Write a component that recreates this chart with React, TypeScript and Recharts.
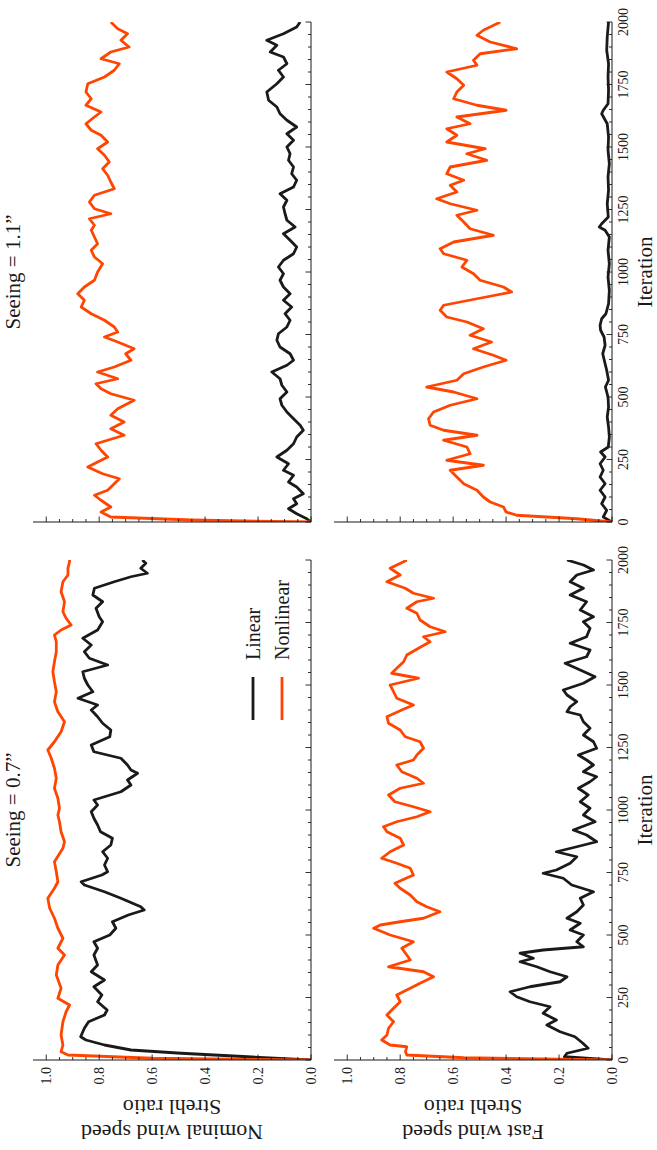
import React from 'react'
import { LineChart, Line, XAxis, YAxis, Legend } from 'recharts'

const FONT = '"Liberation Serif", "DejaVu Serif", serif'
const ORANGE = '#ff4500'
const INK = '#1a1a1a'

// ticks: majors every 250 / 0.2, minors every 50 / 0.05
const iterTicks = [0, 50, 100, 150, 200, 250, 300, 350, 400, 450, 500, 550, 600, 650, 700, 750, 800, 850, 900, 950, 1000,
  1050, 1100, 1150, 1200, 1250, 1300, 1350, 1400, 1450, 1500, 1550, 1600, 1650, 1700, 1750, 1800, 1850, 1900, 1950, 2000]
const strehlTicks = [0, 0.05, 0.1, 0.15, 0.2, 0.25, 0.3, 0.35, 0.4, 0.45, 0.5, 0.55, 0.6, 0.65, 0.7, 0.75, 0.8, 0.85, 0.9, 0.95, 1]

const seeings = ['Seeing = 0.7\u201d', 'Seeing = 1.1\u201d']
const rowLabels = ['Nominal wind speed', 'Fast wind speed']

// [iteration, strehl]
const nom07Lin: [number, number][] = [[0,0],[13,0.24],[27,0.49],[40,0.68],[60,0.78],[80,0.85],[93,0.87],[127,0.856],[153,0.84],[180,0.78],[200,0.77],[233,0.806],[260,0.79],[293,0.82],[320,0.78],[353,0.83],[380,0.806],[420,0.82],[447,0.806],[473,0.82],[500,0.76],[527,0.737],[553,0.75],[580,0.69],[600,0.63],[613,0.643],[647,0.718],[673,0.78],[700,0.856],[713,0.868],[740,0.79],[753,0.768],[780,0.78],[807,0.768],[833,0.787],[860,0.756],[887,0.75],[913,0.795],[940,0.806],[967,0.82],[993,0.83],[1020,0.806],[1040,0.82],[1073,0.718],[1100,0.68],[1120,0.693],[1147,0.655],[1160,0.68],[1180,0.693],[1207,0.718],[1233,0.82],[1260,0.83],[1293,0.76],[1320,0.756],[1347,0.787],[1373,0.806],[1400,0.83],[1420,0.806],[1447,0.88],[1473,0.824],[1500,0.843],[1527,0.856],[1553,0.862],[1580,0.768],[1607,0.837],[1633,0.856],[1660,0.83],[1687,0.862],[1720,0.806],[1753,0.787],[1773,0.8],[1807,0.812],[1833,0.787],[1860,0.824],[1887,0.818],[1913,0.743],[1933,0.68],[1947,0.618],[1967,0.643],[1987,0.624],[2000,0.637]]
const nom07Non: [number, number][] = [[0,0],[7,0.6],[20,0.918],[33,0.944],[60,0.937],[100,0.944],[153,0.937],[193,0.925],[220,0.912],[247,0.956],[287,0.944],[340,0.962],[380,0.956],[420,0.931],[447,0.956],[487,0.937],[527,0.956],[567,0.969],[607,0.987],[647,0.994],[687,0.969],[713,0.956],[753,0.962],[793,0.969],[847,0.937],[873,0.931],[913,0.944],[953,0.95],[980,0.956],[1007,0.95],[1047,0.956],[1087,0.969],[1127,0.962],[1167,0.969],[1207,0.981],[1240,0.994],[1273,0.969],[1313,0.944],[1353,0.931],[1393,0.956],[1433,0.969],[1473,0.962],[1513,0.969],[1553,0.975],[1593,0.969],[1633,0.962],[1673,0.962],[1700,0.969],[1720,0.944],[1740,0.906],[1767,0.925],[1793,0.937],[1833,0.931],[1873,0.944],[1913,0.937],[1940,0.918],[1967,0.918],[1993,0.912],[2000,0.912]]

const fast07Lin: [number, number][] = [[0,0],[13,0.18],[27,0.17],[47,0.09],[67,0.11],[93,0.14],[113,0.196],[140,0.246],[160,0.21],[187,0.26],[213,0.234],[233,0.31],[253,0.36],[273,0.385],[293,0.31],[313,0.196],[333,0.17],[353,0.234],[373,0.284],[393,0.347],[407,0.297],[427,0.347],[440,0.26],[453,0.108],[473,0.133],[500,0.108],[520,0.158],[547,0.12],[567,0.17],[593,0.133],[620,0.108],[647,0.12],[673,0.07],[700,0.152],[727,0.184],[747,0.26],[760,0.21],[787,0.158],[813,0.133],[833,0.21],[853,0.133],[873,0.058],[900,0.096],[920,0.146],[953,0.064],[980,0.108],[1007,0.083],[1033,0.12],[1060,0.09],[1087,0.127],[1113,0.083],[1133,0.058],[1153,0.108],[1180,0.07],[1200,0.096],[1220,0.127],[1247,0.058],[1273,0.07],[1300,0.108],[1327,0.083],[1353,0.108],[1380,0.12],[1393,0.17],[1413,0.158],[1433,0.133],[1460,0.17],[1480,0.184],[1507,0.108],[1533,0.064],[1560,0.12],[1587,0.177],[1613,0.096],[1640,0.083],[1667,0.158],[1693,0.096],[1727,0.083],[1753,0.108],[1773,0.07],[1800,0.12],[1833,0.096],[1860,0.158],[1887,0.108],[1913,0.158],[1940,0.133],[1960,0.07],[1980,0.108],[2000,0.17]]
const fast07Non: [number, number][] = [[0,0],[9,0.56],[20,0.775],[33,0.78],[53,0.775],[60,0.838],[80,0.87],[100,0.85],[127,0.844],[153,0.825],[180,0.85],[207,0.825],[233,0.8],[260,0.813],[287,0.762],[307,0.725],[333,0.674],[353,0.712],[373,0.844],[400,0.762],[420,0.775],[447,0.794],[473,0.75],[500,0.838],[527,0.9],[540,0.875],[553,0.8],[567,0.712],[593,0.65],[613,0.7],[633,0.737],[660,0.762],[687,0.8],[707,0.82],[740,0.75],[767,0.762],[787,0.813],[807,0.87],[833,0.838],[860,0.787],[887,0.8],[913,0.85],[933,0.863],[953,0.813],[973,0.737],[993,0.687],[1013,0.75],[1033,0.82],[1060,0.844],[1087,0.8],[1107,0.712],[1127,0.737],[1153,0.794],[1180,0.813],[1200,0.75],[1220,0.737],[1247,0.712],[1273,0.725],[1293,0.781],[1320,0.8],[1347,0.844],[1373,0.85],[1400,0.794],[1420,0.75],[1447,0.813],[1473,0.825],[1500,0.838],[1527,0.731],[1547,0.832],[1567,0.813],[1593,0.787],[1620,0.775],[1647,0.731],[1673,0.687],[1693,0.712],[1713,0.63],[1733,0.687],[1760,0.725],[1787,0.737],[1807,0.775],[1833,0.737],[1847,0.674],[1867,0.75],[1887,0.781],[1913,0.85],[1940,0.8],[1967,0.838],[1993,0.787],[2000,0.775]]

const nom11Lin: [number, number][] = [[0,0],[13,0.016],[33,0.054],[53,0.085],[73,0.054],[93,0.066],[113,0.029],[140,0.054],[160,0.085],[187,0.066],[207,0.104],[233,0.085],[260,0.129],[287,0.091],[313,0.066],[340,0.054],[367,0.029],[387,0.041],[413,0.066],[440,0.091],[467,0.11],[493,0.117],[520,0.091],[547,0.11],[573,0.117],[600,0.148],[627,0.091],[647,0.066],[673,0.079],[700,0.117],[727,0.129],[753,0.123],[780,0.091],[807,0.079],[833,0.098],[860,0.073],[887,0.104],[913,0.079],[940,0.104],[967,0.117],[993,0.104],[1020,0.123],[1047,0.104],[1073,0.066],[1100,0.054],[1127,0.079],[1153,0.104],[1180,0.06],[1207,0.091],[1233,0.098],[1260,0.104],[1287,0.091],[1313,0.117],[1340,0.066],[1367,0.054],[1393,0.073],[1420,0.066],[1447,0.085],[1473,0.079],[1500,0.091],[1527,0.066],[1553,0.091],[1580,0.054],[1607,0.091],[1633,0.117],[1660,0.129],[1687,0.16],[1720,0.167],[1753,0.129],[1780,0.104],[1807,0.123],[1833,0.091],[1860,0.104],[1880,0.154],[1907,0.129],[1927,0.167],[1953,0.104],[1980,0.054],[2000,0.041]]
const nom11Non: [number, number][] = [[0,0],[8,0.45],[20,0.756],[40,0.793],[60,0.756],[87,0.793],[107,0.818],[127,0.768],[153,0.743],[173,0.724],[193,0.787],[220,0.843],[240,0.806],[260,0.768],[287,0.793],[313,0.812],[347,0.706],[373,0.756],[400,0.706],[427,0.756],[453,0.73],[487,0.668],[513,0.756],[533,0.793],[553,0.812],[573,0.73],[600,0.806],[620,0.743],[647,0.68],[673,0.7],[693,0.668],[720,0.73],[740,0.78],[760,0.73],[780,0.743],[807,0.78],[833,0.83],[860,0.868],[887,0.856],[913,0.881],[940,0.856],[967,0.818],[1000,0.806],[1033,0.787],[1060,0.818],[1087,0.83],[1113,0.806],[1140,0.818],[1167,0.83],[1187,0.818],[1213,0.837],[1233,0.756],[1253,0.818],[1280,0.837],[1307,0.818],[1333,0.743],[1360,0.756],[1387,0.768],[1413,0.787],[1440,0.762],[1467,0.78],[1493,0.806],[1520,0.768],[1547,0.793],[1567,0.83],[1593,0.85],[1620,0.818],[1640,0.793],[1667,0.85],[1693,0.83],[1720,0.85],[1753,0.843],[1780,0.78],[1807,0.743],[1833,0.724],[1853,0.793],[1880,0.756],[1900,0.687],[1927,0.718],[1953,0.693],[1973,0.73],[2000,0.756]]

const fast11Lin: [number, number][] = [[0,0],[20,0.033],[47,0.02],[73,0.039],[100,0.026],[127,0.045],[153,0.026],[180,0.045],[207,0.033],[233,0.045],[260,0.026],[280,0.043],[300,0.014],[340,0.01],[380,0.013],[420,0.018],[460,0.013],[500,0.015],[540,0.025],[567,0.013],[607,0.02],[633,0.026],[673,0.035],[707,0.026],[740,0.03],[767,0.043],[787,0.045],[813,0.039],[833,0.023],[873,0.013],[927,0.01],[980,0.015],[1033,0.01],[1087,0.015],[1140,0.01],[1167,0.026],[1180,0.048],[1193,0.039],[1220,0.014],[1273,0.018],[1327,0.013],[1380,0.015],[1433,0.01],[1487,0.015],[1540,0.013],[1593,0.018],[1633,0.039],[1647,0.033],[1673,0.015],[1727,0.013],[1780,0.015],[1833,0.013],[1887,0.02],[1940,0.018],[2000,0.013]]
const fast11Non: [number, number][] = [[0,0],[13,0.133],[27,0.36],[40,0.4],[60,0.41],[80,0.46],[100,0.486],[127,0.51],[153,0.56],[180,0.586],[207,0.611],[227,0.486],[247,0.624],[273,0.536],[300,0.548],[327,0.636],[347,0.51],[367,0.636],[387,0.687],[413,0.693],[440,0.674],[467,0.611],[493,0.51],[520,0.598],[540,0.7],[567,0.586],[593,0.56],[620,0.486],[647,0.4],[667,0.448],[693,0.523],[720,0.455],[747,0.536],[773,0.486],[800,0.548],[820,0.624],[847,0.649],[867,0.636],[893,0.51],[920,0.379],[940,0.41],[967,0.498],[993,0.523],[1020,0.567],[1047,0.548],[1073,0.636],[1093,0.649],[1120,0.598],[1147,0.448],[1173,0.536],[1200,0.56],[1227,0.586],[1247,0.51],[1273,0.611],[1293,0.662],[1320,0.586],[1347,0.611],[1367,0.56],[1393,0.624],[1420,0.611],[1447,0.473],[1473,0.548],[1493,0.479],[1520,0.624],[1547,0.586],[1573,0.624],[1593,0.536],[1620,0.586],[1647,0.4],[1667,0.51],[1693,0.598],[1720,0.586],[1747,0.56],[1773,0.586],[1800,0.624],[1827,0.51],[1847,0.523],[1873,0.498],[1893,0.36],[1920,0.46],[1947,0.51],[1967,0.486],[1993,0.435],[2000,0.422]]

const toRows = (pts: [number, number][]) => pts.map(([it, v]) => ({ it, v }))

// plot geometry in the unrotated (landscape) figure
const PW = 500
const PH = 278
const AXL = 50
const AXB = 30
const PAD = 5
const PADR = 22
const colX = [90, 628]
const rowY = [33, 334]

function xTick(p: any, axisY: number, dir: number, label: boolean) {
  const v = p.payload.value
  const major = v % 250 === 0
  const len = major ? 5.5 : 3
  return (
    <g>
      <line x1={p.x} x2={p.x} y1={axisY} y2={axisY - dir * len} stroke={INK} strokeWidth={0.9} />
      {label && major && (
        <text x={p.x} y={axisY + 11.5} textAnchor="middle" dominantBaseline="central" fontFamily={FONT} fontSize={14} fill={INK}>
          {v}
        </text>
      )}
    </g>
  )
}

function yTick(p: any, axisX: number, dir: number, label: boolean) {
  const v = p.payload.value
  const major = Math.round(v * 100) % 20 === 0
  const len = major ? 5.5 : 3
  return (
    <g>
      <line x1={axisX} x2={axisX + dir * len} y1={p.y} y2={p.y} stroke={INK} strokeWidth={0.9} />
      {label && major && (
        <text x={axisX - 7} y={p.y} textAnchor="end" dominantBaseline="central" fontFamily={FONT} fontSize={14} fill={INK}>
          {v.toFixed(1)}
        </text>
      )}
    </g>
  )
}

function LegendBox({ payload }: any) {
  return (
    <div style={{ fontFamily: FONT, fontSize: 20, color: INK }}>
      {(payload || []).map((e: any) => (
        <div key={e.value} style={{ display: 'flex', alignItems: 'center', height: 29 }}>
          <svg width={43} height={4} style={{ display: 'block' }}>
            <line x1={0} x2={43} y1={2} y2={2} stroke={e.color} strokeWidth={2.8} />
          </svg>
          <span style={{ marginLeft: 17, lineHeight: '20px' }}>{e.value}</span>
        </div>
      ))}
    </div>
  )
}

function Panel({ col, row, lin, non, legend }: { col: number; row: number; lin: [number, number][]; non: [number, number][]; legend?: boolean }) {
  const bottom = PAD + PH
  const right = AXL + PW
  const showX = row === 1
  const showY = col === 0
  return (
    <div style={{ position: 'absolute', left: colX[col] - AXL, top: rowY[row] - PAD }}>
      <LineChart width={AXL + PW + PADR} height={PAD + PH + AXB} margin={{ top: PAD, right: PADR, bottom: 0, left: 0 }}>
        <XAxis xAxisId="b" type="number" dataKey="it" domain={[0, 2000]} allowDataOverflow ticks={iterTicks} interval={0}
          height={AXB} tickLine={false} axisLine={{ stroke: INK }} tick={(p: any) => xTick(p, bottom, 1, showX)} />
        <XAxis xAxisId="t" orientation="top" type="number" dataKey="it" domain={[0, 2000]} allowDataOverflow ticks={iterTicks} interval={0}
          height={0} tickLine={false} axisLine={{ stroke: INK }} tick={(p: any) => xTick(p, PAD, -1, false)} />
        <YAxis yAxisId="l" type="number" domain={[0, 1.05]} allowDataOverflow ticks={strehlTicks} interval={0}
          width={AXL} tickLine={false} axisLine={{ stroke: INK }} tick={(p: any) => yTick(p, AXL, 1, showY)} />
        <YAxis yAxisId="r" orientation="right" type="number" domain={[0, 1.05]} allowDataOverflow ticks={strehlTicks} interval={0}
          width={0} tickLine={false} axisLine={{ stroke: INK }} tick={(p: any) => yTick(p, right, -1, false)} />
        <Line xAxisId="b" yAxisId="l" data={toRows(lin)} dataKey="v" name="Linear" type="linear" stroke={INK}
          strokeWidth={2.8} dot={false} strokeLinejoin="round" isAnimationActive={false} />
        <Line xAxisId="b" yAxisId="l" data={toRows(non)} dataKey="v" name="Nonlinear" type="linear" stroke={ORANGE}
          strokeWidth={2.8} dot={false} strokeLinejoin="round" isAnimationActive={false} />
        {legend && (
          <Legend layout="vertical" align="center" verticalAlign="middle" content={<LegendBox />}
            wrapperStyle={{ left: 390, top: 210, width: 160, height: 58 }} />
        )}
      </LineChart>
    </div>
  )
}

const txt: React.CSSProperties = { position: 'absolute', fontFamily: FONT, color: INK, textAlign: 'center', whiteSpace: 'nowrap' }

export default function App() {
  return (
    <div style={{ position: 'absolute', left: 0, top: 0, width: 657, height: 1150, overflow: 'hidden', background: '#fff' }}>
      <div style={{ position: 'absolute', left: 0, top: 0, width: 1150, height: 657, background: '#fff',
        transformOrigin: '0 0', transform: 'translateY(1150px) rotate(-90deg)' }}>
        <Panel col={0} row={0} lin={nom07Lin} non={nom07Non} legend />
        <Panel col={0} row={1} lin={fast07Lin} non={fast07Non} />
        <Panel col={1} row={0} lin={nom11Lin} non={nom11Non} />
        <Panel col={1} row={1} lin={fast11Lin} non={fast11Non} />

        {seeings.map((s, i) => (
          <div key={s} style={{ ...txt, left: colX[i] + PW / 2 - 150, width: 300, top: 16 - 12.6, fontSize: 21, lineHeight: '21px' }}>{s}</div>
        ))}
        {colX.map((x) => (
          <div key={x} style={{ ...txt, left: x + PW / 2 - 150, width: 300, top: 645 - 10.5, fontSize: 21, lineHeight: '21px' }}>Iteration</div>
        ))}
        {rowLabels.map((lab, r) => (
          <React.Fragment key={lab}>
            <div style={{ ...txt, left: 18 - 150, width: 300, top: rowY[r] + PH / 2 - 11, fontSize: 22, lineHeight: '22px', transform: 'rotate(-90deg)' }}>{lab}</div>
            <div style={{ ...txt, left: 43 - 150, width: 300, top: rowY[r] + PH / 2 - 11, fontSize: 22, lineHeight: '22px', transform: 'rotate(-90deg)' }}>Strehl ratio</div>
          </React.Fragment>
        ))}
      </div>
    </div>
  )
}
